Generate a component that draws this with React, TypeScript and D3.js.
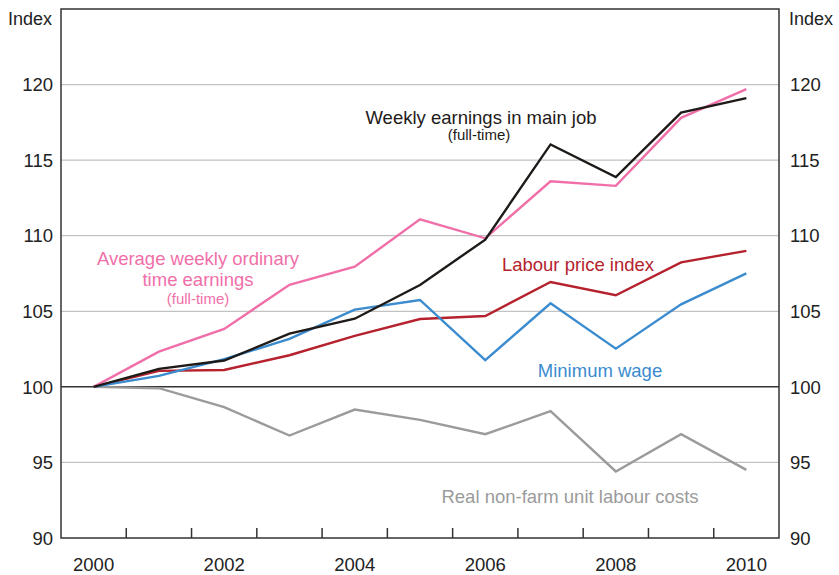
import React from "react";
import * as d3 from "d3";

const years = [2000, 2001, 2002, 2003, 2004, 2005, 2006, 2007, 2008, 2009, 2010];
const awote = [100, 102.33, 103.83, 106.75, 107.95, 111.08, 109.83, 113.6, 113.3, 117.8, 119.7];
const weeklyMainJob = [100, 101.19, 101.74, 103.52, 104.51, 106.74, 109.74, 116.04, 113.88, 118.15, 119.1];
const labourPriceIndex = [100, 101.06, 101.12, 102.09, 103.37, 104.49, 104.69, 106.94, 106.06, 108.24, 109.0];
const minimumWage = [100, 100.73, 101.83, 103.17, 105.11, 105.75, 101.76, 105.53, 102.53, 105.46, 107.51];
const realUlc = [100, 99.91, 98.66, 96.78, 98.5, 97.82, 96.87, 98.39, 94.4, 96.87, 94.51];

const yTicks = [90, 95, 100, 105, 110, 115, 120];
const xLabels = [2000, 2002, 2004, 2006, 2008, 2010];
const xMinorTicks = [2000.5, 2001.5, 2002.5, 2003.5, 2004.5, 2005.5, 2006.5, 2007.5, 2008.5, 2009.5];

const W = 839;
const H = 575;
const L = 61, R = 779, T = 9, B = 538;
const FONT = "Liberation Sans, Arial, sans-serif";

export default function App() {
  const x = d3.scaleLinear().domain([1999.5, 2010.5]).range([L, R]);
  const y = d3.scaleLinear().domain([90, 125]).range([B, T]);
  const line = d3.line<number>().x((_, i) => x(years[i])).y((d) => y(d));

  const series = [
    { v: realUlc, c: "#9b9b9b" },
    { v: labourPriceIndex, c: "#b5222d" },
    { v: minimumWage, c: "#3b8bcf" },
    { v: awote, c: "#f06fa9" },
    { v: weeklyMainJob, c: "#1e1a18" },
  ];

  return (
    <svg width={W} height={H} style={{ position: "absolute", left: 0, top: 0 }} fontFamily={FONT}>
      <rect width={W} height={H} fill="#fff" />
      {yTicks.filter((t) => t !== 90 && t !== 100).map((t) => (
        <line key={"g" + t} x1={L} x2={R} y1={y(t)} y2={y(t)} stroke="#c2c2c2" strokeWidth={1.2} />
      ))}
      <line x1={L} x2={R} y1={y(100)} y2={y(100)} stroke="#333" strokeWidth={1.5} />
      {series.map((s, i) => (
        <path key={i} d={line(s.v) || ""} fill="none" stroke={s.c} strokeWidth={2.4} strokeLinejoin="miter" />
      ))}
      <rect x={L} y={T} width={R - L} height={B - T} fill="none" stroke="#333" strokeWidth={1.5} />
      {xMinorTicks.map((t) => (
        <line key={"t" + t} x1={x(t)} x2={x(t)} y1={B} y2={B - 10} stroke="#333" strokeWidth={1.5} />
      ))}
      {yTicks.map((t) => (
        <g key={"l" + t} fontSize={18.5} fill="#222">
          <text x={53} y={y(t)} dy="0.36em" textAnchor="end">{t}</text>
          <text x={790} y={y(t)} dy="0.36em" textAnchor="start">{t}</text>
        </g>
      ))}
      <text x={52} y={25} fontSize={18} textAnchor="end" fill="#222">Index</text>
      <text x={789} y={25} fontSize={18} textAnchor="start" fill="#222">Index</text>
      {xLabels.map((t) => (
        <text key={"x" + t} x={x(t)} y={571} fontSize={18.5} textAnchor="middle" fill="#222">{t}</text>
      ))}
      <text x={481} y={124} fontSize={18.5} textAnchor="middle" fill="#1e1a18">Weekly earnings in main job</text>
      <text x={479} y={140} fontSize={15} textAnchor="middle" fill="#1e1a18">(full-time)</text>
      <text x={198} y={265} fontSize={18.5} textAnchor="middle" fill="#f06fa9">Average weekly ordinary</text>
      <text x={198} y={286} fontSize={18.5} textAnchor="middle" fill="#f06fa9">time earnings</text>
      <text x={198} y={304} fontSize={15} textAnchor="middle" fill="#f06fa9">(full-time)</text>
      <text x={578} y={271} fontSize={18.5} textAnchor="middle" fill="#b5222d">Labour price index</text>
      <text x={600} y={377} fontSize={18.5} textAnchor="middle" fill="#3b8bcf">Minimum wage</text>
      <text x={570} y={503} fontSize={18.5} textAnchor="middle" fill="#9b9b9b">Real non-farm unit labour costs</text>
    </svg>
  );
}
